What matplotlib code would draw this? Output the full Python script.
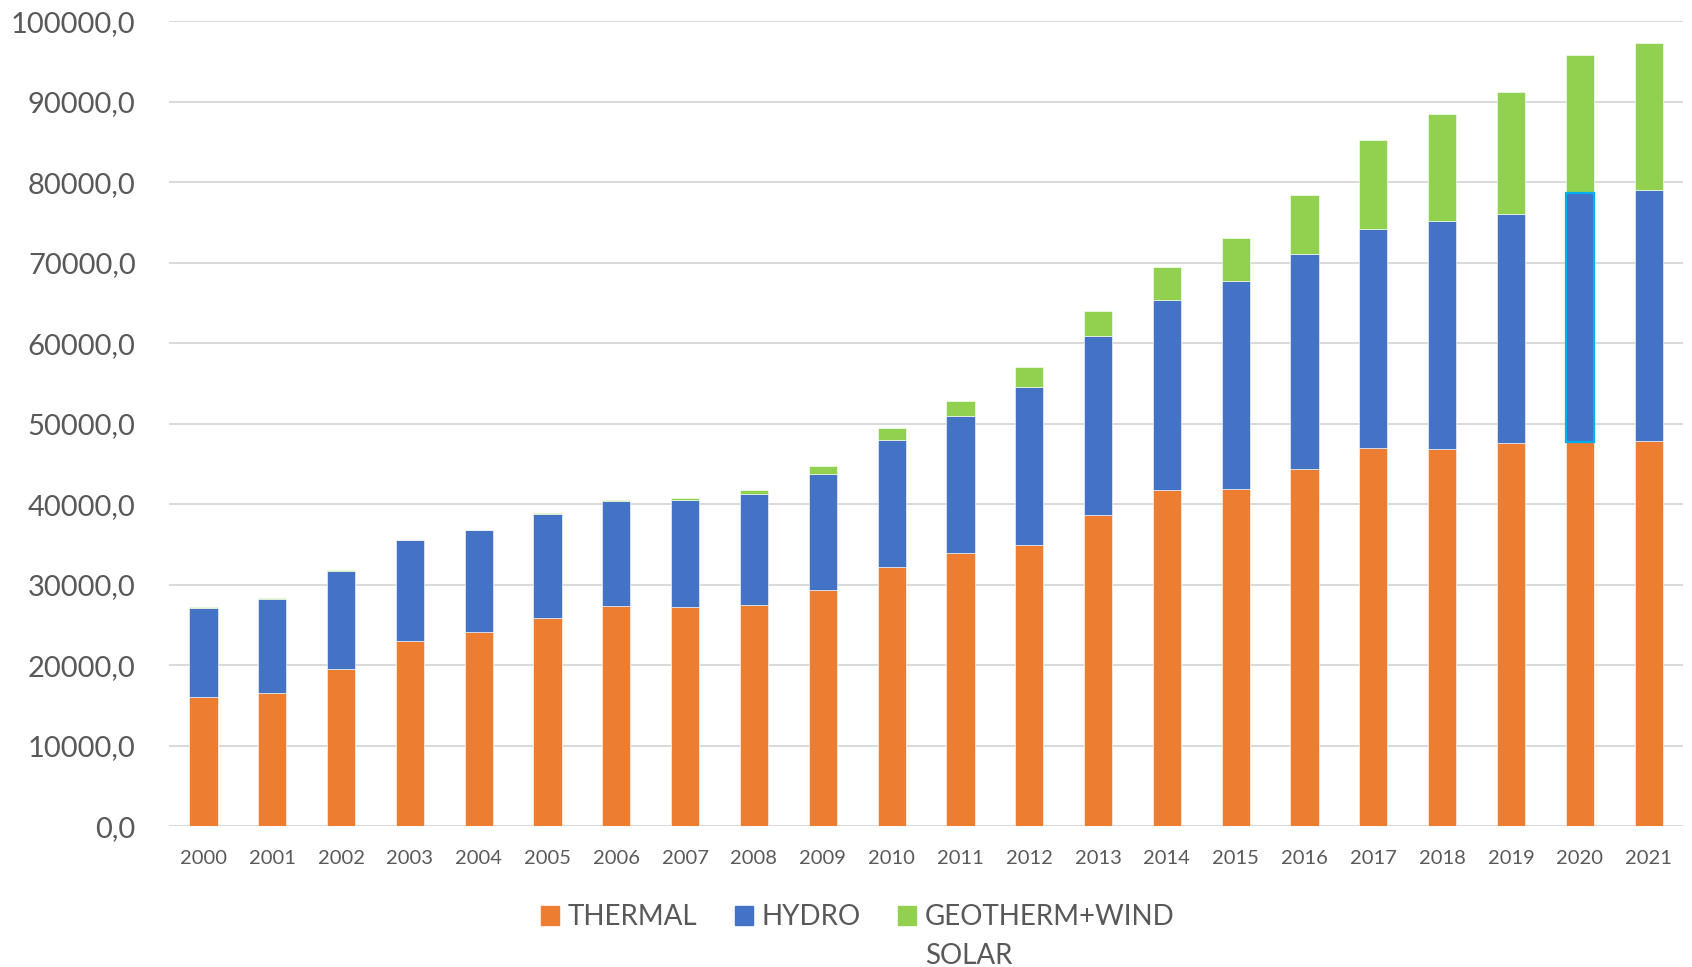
import matplotlib
matplotlib.use("Agg")
import matplotlib.pyplot as plt
from matplotlib.patches import Patch
from matplotlib.ticker import FuncFormatter
import numpy as np

years = [str(y) for y in range(2000, 2022)]
thermal = [16090, 16580, 19570, 23000, 24160, 25900, 27430, 27270, 27560, 29340, 32240,
           33940, 35010, 38680, 41800, 41930, 44410, 46960, 46900, 47640, 47720, 47890]
hydro = [11090, 11680, 12210, 12550, 12630, 12920, 13040, 13330, 13780, 14490, 15810,
         17050, 19590, 22250, 23640, 25820, 26650, 27220, 28260, 28490, 31010, 31220]
geo_wind_solar = [90, 80, 80, 90, 80, 80, 80, 250, 460, 910, 1450,
                  1910, 2480, 3070, 4060, 5350, 7410, 11040, 13400, 15130, 17110, 18260]
series_labels = ["THERMAL", "HYDRO", "GEOTHERM+WIND"]
wrapped_tail = "SOLAR"

C_THERMAL = "#ED7D31"
C_HYDRO = "#4472C4"
C_GEO = "#92D050"
TEXT = "#595959"
GRID = "#D9D9D9"

plt.rcParams["font.family"] = ["Lato", "DejaVu Sans"]

fig = plt.figure(figsize=(16.92, 9.67), dpi=100)
ax = fig.add_axes([0.0999, 0.1453, 0.8948, 0.8325])

x = np.arange(len(years))
w = 0.41
thermal = np.array(thermal)
hydro = np.array(hydro)
geo_wind_solar = np.array(geo_wind_solar)

ax.bar(x, thermal, w, color=C_THERMAL, edgecolor="white", linewidth=0.4, zorder=3)
hb = ax.bar(x, hydro, w, bottom=thermal, color=C_HYDRO, edgecolor="white",
            linewidth=0.4, zorder=3)
ax.bar(x, geo_wind_solar, w, bottom=thermal + hydro, color=C_GEO, edgecolor="white",
       linewidth=0.4, zorder=3)

# highlighted hydro segment for 2020
sel = hb[years.index("2020")]
sel.set_edgecolor("#00B0F0")
sel.set_linewidth(1.6)
sel.set_zorder(4)

ax.set_xlim(-0.5, len(years) - 0.5)
ax.set_ylim(0, 100000)
ax.set_yticks(np.arange(0, 100001, 10000))
ax.yaxis.set_major_formatter(FuncFormatter(lambda v, _: f"{v:.1f}".replace(".", ",")))
ax.set_xticks(x)
ax.set_xticklabels(years)

ax.grid(axis="y", color=GRID, linewidth=1.4, zorder=0)
for s in ax.spines.values():
    s.set_visible(False)
ax.tick_params(axis="y", length=0, pad=24, labelsize=21, labelcolor=TEXT)
ax.tick_params(axis="x", length=0, pad=17, labelsize=14.5, labelcolor=TEXT)

handles = [Patch(color=c) for c in (C_THERMAL, C_HYDRO, C_GEO)]
leg = fig.legend(handles, series_labels, loc="center", bbox_to_anchor=(0.507, 0.0515),
                 ncol=3, frameon=False, fontsize=20, labelcolor=TEXT,
                 handlelength=0.65, handleheight=0.65, handletextpad=0.31,
                 columnspacing=1.35)

# the last legend label wraps onto a second line
fig.canvas.draw()
bb = leg.get_texts()[2].get_window_extent().transformed(fig.transFigure.inverted())
fig.text(bb.x0, (bb.y0 + bb.y1) / 2 - 39 / 967, wrapped_tail, fontsize=20,
         color=TEXT, va="center", ha="left")

fig.savefig("out.png", dpi=100)
